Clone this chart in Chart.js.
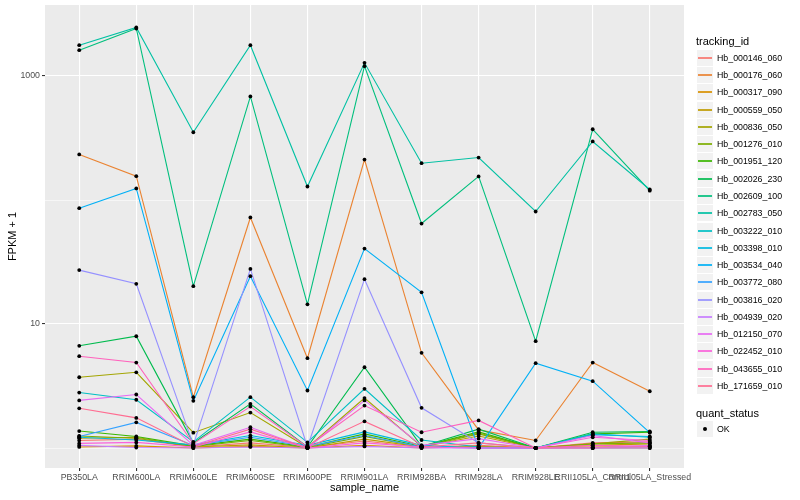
<!DOCTYPE html>
<html>
<head>
<meta charset="utf-8">
<script src="https://cdn.jsdelivr.net/npm/chart.js@4.4.1/dist/chart.umd.min.js"></script>
<style>
  html, body { margin: 0; padding: 0; background: #fff; }
  #wrap { position: relative; width: 800px; height: 500px; font-family: "Liberation Sans", Arial, sans-serif; }
  #legend { position: absolute; left: 0; top: 0; }
  .lg-title { position: absolute; left: 696px; font-size: 11px; line-height: 12px; color: #000; white-space: nowrap; }
  .lg-key { position: absolute; left: 697px; width: 16px; height: 16px; background: #F2F2F2; }
  .lg-line { position: absolute; left: 1px; right: 1px; top: 7px; height: 2px; opacity: 0.85; }
  .lg-dot { position: absolute; left: 6px; top: 6px; width: 4px; height: 4px; border-radius: 50%; background: #000; }
  .lg-text { position: absolute; left: 717px; font-size: 8.8px; line-height: 10px; color: #000; white-space: nowrap; }
</style>
</head>
<body>
<div id="wrap">
  <canvas id="chart" width="800" height="500"></canvas>
  <div id="legend"></div>
</div>
<script>
// samples on the x axis
const samples = ['PB350LA', 'RRIM600LA', 'RRIM600LE', 'RRIM600SE', 'RRIM600PE', 'RRIM901LA',
  'RRIM928BA', 'RRIM928LA', 'RRIM928LE', 'RRII105LA_Control', 'RRII105LA_Stressed'];

const trackingIds = ['Hb_000146_060', 'Hb_000176_060', 'Hb_000317_090', 'Hb_000559_050', 'Hb_000836_050',
  'Hb_001276_010', 'Hb_001951_120', 'Hb_002026_230', 'Hb_002609_100', 'Hb_002783_050',
  'Hb_003222_010', 'Hb_003398_010', 'Hb_003534_040', 'Hb_003772_080', 'Hb_003816_020',
  'Hb_004939_020', 'Hb_012150_070', 'Hb_022452_010', 'Hb_043655_010', 'Hb_171659_010'];

// FPKM + 1, one array per gene, in sample order
const hb000146_060 = [1.15, 1.18, 1.02, 1.10, 1.01, 1.14, 1.01, 1.05, 1.00, 1.10, 1.12];
const hb000176_060 = [233, 155.6, 2.57, 72.3, 5.30, 212, 5.86, 1.40, 1.15, 4.89, 2.87];
const hb000317_090 = [1.02, 1.04, 1.00, 1.03, 1.00, 1.05, 1.00, 1.03, 1.00, 1.02, 1.03];
const hb000559_050 = [1.20, 1.22, 1.02, 1.06, 1.00, 1.18, 1.02, 1.25, 1.00, 1.05, 1.08];
const hb000836_050 = [3.72, 4.08, 1.33, 1.93, 1.01, 2.53, 1.03, 1.32, 1.00, 1.08, 1.18];
const hb001276_010 = [1.25, 1.20, 1.03, 1.15, 1.01, 1.24, 1.02, 1.30, 1.00, 1.08, 1.10];
const hb001951_120 = [1.37, 1.24, 1.04, 1.18, 1.02, 1.30, 1.03, 1.35, 1.00, 1.30, 1.34];
const hb002026_230 = [6.67, 7.97, 1.10, 2.27, 1.02, 4.48, 1.03, 1.42, 1.00, 1.34, 1.36];
const hb002609_100 = [1615, 2416, 20.2, 684, 14.4, 1200, 64.6, 155, 7.27, 372, 119];
const hb002783_050 = [1771, 2461, 352, 1771, 128.5, 1277, 198, 220, 80.8, 296.5, 121.5];
const hb003222_010 = [2.80, 2.45, 1.12, 2.57, 1.11, 3.00, 1.16, 1.02, 1.00, 1.30, 1.22];
const hb003398_010 = [1.22, 1.16, 1.06, 1.26, 1.05, 1.35, 1.05, 1.00, 1.00, 1.28, 1.24];
const hb003534_040 = [85.9, 124, 2.40, 24.3, 2.91, 40.6, 18.0, 1.00, 4.83, 3.46, 1.33];
const hb003772_080 = [1.24, 1.61, 1.05, 1.22, 1.03, 1.26, 1.02, 1.00, 1.00, 1.00, 1.00];
const hb003816_020 = [27.2, 21.1, 1.06, 27.8, 1.02, 23.0, 2.11, 1.10, 1.00, 1.01, 1.02];
const hb004939_020 = [1.05, 1.01, 1.00, 1.02, 1.00, 1.03, 1.00, 1.00, 1.00, 1.00, 1.05];
const hb012150_070 = [2.42, 2.70, 1.05, 1.47, 1.00, 2.42, 1.05, 1.19, 1.00, 1.26, 1.10];
const hb022452_010 = [1.09, 1.11, 1.02, 1.35, 1.00, 1.10, 1.02, 1.00, 1.00, 1.22, 1.15];
const hb043655_010 = [5.50, 4.89, 1.08, 2.16, 1.02, 2.20, 1.34, 1.67, 1.00, 1.05, 1.03];
const hb171659_010 = [2.09, 1.75, 1.03, 1.42, 1.00, 1.64, 1.02, 1.10, 1.00, 1.00, 1.00];

const seriesValues = [hb000146_060, hb000176_060, hb000317_090, hb000559_050, hb000836_050,
  hb001276_010, hb001951_120, hb002026_230, hb002609_100, hb002783_050,
  hb003222_010, hb003398_010, hb003534_040, hb003772_080, hb003816_020,
  hb004939_020, hb012150_070, hb022452_010, hb043655_010, hb171659_010];

// y axis (log10): gridlines at yBreaks, labels only on the major ones
const yBreaks = [1, 10, 100, 1000];
const yMajor = [10, 1000];
const yMin = 0.69;
const yMax = 3737;

// ggplot hue palette, 20 levels
const lineColors = ['#F8766D', '#EA8331', '#D89000', '#C09B00', '#A3A500', '#7CAE00', '#39B600',
  '#00BB4E', '#00BF7D', '#00C1A3', '#00BFC4', '#00BAE0', '#00B0F6', '#35A2FF', '#9590FF',
  '#C77CFF', '#E76BF3', '#FA62DB', '#FF62BC', '#FF6C91'];

const FONT = '"Liberation Sans", Arial, sans-serif';

// grey panel behind the plot
const panelBg = {
  id: 'panelBg',
  beforeDraw(chart) {
    const { ctx, chartArea: a } = chart;
    ctx.save();
    ctx.fillStyle = '#EBEBEB';
    ctx.fillRect(a.left, a.top, a.right - a.left, a.bottom - a.top);
    ctx.restore();
  }
};

const lineSets = seriesValues.map((vals, s) => ({
  label: trackingIds[s],
  data: vals.map((v, i) => ({ x: i, y: v })),
  borderColor: lineColors[s],
  borderWidth: 1.1,
  pointRadius: 0,
  fill: false,
  tension: 0
}));

// all points in black, on top of the lines
const pointSet = {
  label: 'OK',
  data: seriesValues.flatMap(vals => vals.map((v, i) => ({ x: i, y: v }))),
  showLine: false,
  pointRadius: 1.9,
  pointBackgroundColor: '#000000',
  pointBorderWidth: 0
};

// first dataset is drawn on top -> points first, then last gene down to first
const datasets = [pointSet, ...lineSets.slice().reverse()];

new Chart(document.getElementById('chart').getContext('2d'), {
  type: 'line',
  data: { datasets },
  options: {
    responsive: false,
    animation: false,
    layout: { padding: { top: 5, right: 116, left: 0, bottom: 0 } },
    plugins: { legend: { display: false }, tooltip: { enabled: false } },
    scales: {
      x: {
        type: 'linear',
        min: -0.6,
        max: samples.length - 1 + 0.6,
        afterBuildTicks: s => { s.ticks = samples.map((_, i) => ({ value: i })); },
        afterFit: s => { s.height = 32; s.paddingLeft = 0; s.paddingRight = 0; },
        ticks: {
          callback: v => samples[v],
          autoSkip: false, maxRotation: 0, minRotation: 0,
          color: '#4D4D4D', padding: 1,
          font: { family: FONT, size: 8.8 }
        },
        grid: { color: '#FFFFFF', lineWidth: 1.1, tickColor: '#333333', tickLength: 3 },
        border: { display: false },
        title: {
          display: true, text: 'sample_name', color: '#000',
          font: { family: FONT, size: 11 }, padding: { top: 0, bottom: 5 }
        }
      },
      y: {
        type: 'logarithmic',
        min: yMin,
        max: yMax,
        afterBuildTicks: s => { s.ticks = yBreaks.map(v => ({ value: v })); },
        afterFit: s => { s.width = 45; s.paddingTop = 0; s.paddingBottom = 0; },
        ticks: {
          callback: v => (yMajor.includes(v) ? String(v) : ''),
          autoSkip: false,
          color: '#4D4D4D', padding: 2,
          font: { family: FONT, size: 8.8 }
        },
        grid: {
          color: '#FFFFFF',
          lineWidth: c => (yMajor.includes(c.tick && c.tick.value) ? 1.1 : 0.55),
          tickColor: c => (yMajor.includes(c.tick && c.tick.value) ? '#333333' : 'rgba(0,0,0,0)'),
          tickLength: 3
        },
        border: { display: false },
        title: {
          display: true, text: 'FPKM + 1', color: '#000',
          font: { family: FONT, size: 11 }, padding: { top: 6, bottom: 0 }
        }
      }
    }
  },
  plugins: [panelBg]
});

// ggplot-style legend on the right
const legend = document.getElementById('legend');
function addEl(cls, css, text) {
  const el = document.createElement('div');
  el.className = cls;
  Object.assign(el.style, css);
  if (text) el.textContent = text;
  legend.appendChild(el);
  return el;
}
addEl('lg-title', { top: '34.5px' }, 'tracking_id');
trackingIds.forEach((id, i) => {
  const yc = 57.7 + i * 17.28;
  const key = addEl('lg-key', { top: Math.round(yc - 8) + 'px' });
  const ln = document.createElement('div');
  ln.className = 'lg-line';
  ln.style.background = lineColors[i];
  key.appendChild(ln);
  addEl('lg-text', { top: (yc - 5) + 'px' }, id);
});
addEl('lg-title', { top: '406.5px' }, 'quant_status');
const okKey = addEl('lg-key', { top: '421px' });
const dot = document.createElement('div');
dot.className = 'lg-dot';
okKey.appendChild(dot);
addEl('lg-text', { top: '424.3px' }, 'OK');
</script>
</body>
</html>
